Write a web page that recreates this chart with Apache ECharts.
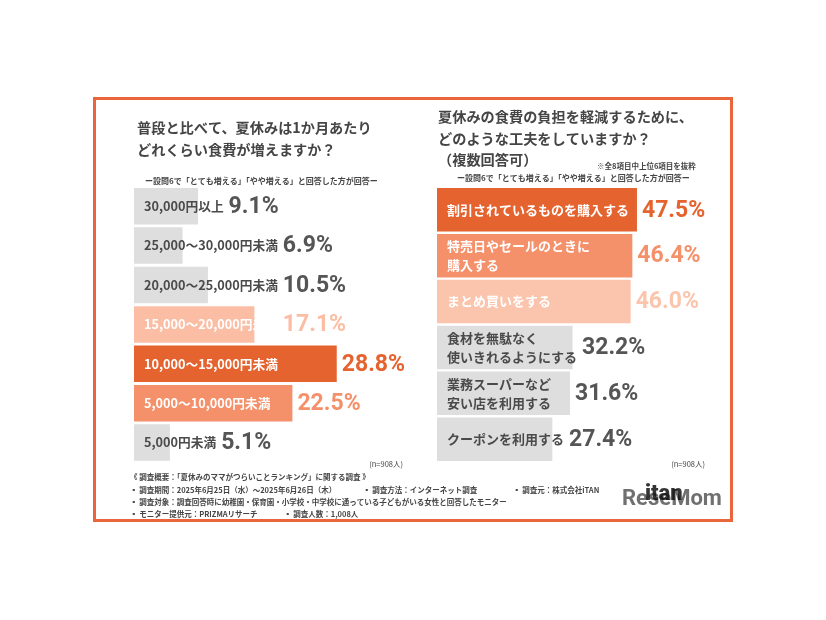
<!DOCTYPE html>
<html><head><meta charset="utf-8">
<script src="https://cdn.jsdelivr.net/npm/echarts@6/dist/echarts.min.js"></script>
<style>html,body{margin:0;padding:0;background:#fff}#c{width:826px;height:620px}</style>
</head><body><div id="c"></div>
<script>
// ---- data ----
const leftCategories = ['30,000円以上','25,000～30,000円未満','20,000～25,000円未満','15,000～20,000円未満','10,000～15,000円未満','5,000～10,000円未満','5,000円未満'];
const leftValues = [9.1, 6.9, 10.5, 17.1, 28.8, 22.5, 5.1];
const leftColors = ['#dedede','#dedede','#dedede','#fbbea5','#e4632f','#f4916b','#dedede'];
const leftLabelColors = ['#4a4a4a','#4a4a4a','#4a4a4a','#ffffff','#ffffff','#ffffff','#4a4a4a'];
const leftValueColors = ['#555555','#555555','#555555','#fbbea5','#e4632f','#f4916b','#555555'];

const rightCategories = ['割引されているものを購入する','特売日やセールのときに\n購入する','まとめ買いをする','食材を無駄なく\n使いきれるようにする','業務スーパーなど\n安い店を利用する','クーポンを利用する'];
const rightValues = [47.5, 46.4, 46.0, 32.2, 31.6, 27.4];
const rightColors = ['#e4632f','#f4916b','#fbc4ac','#dedede','#dedede','#dedede'];
const rightLabelColors = ['#ffffff','#ffffff','#ffffff','#4a4a4a','#4a4a4a','#4a4a4a'];
const rightValueColors = ['#e4632f','#f4916b','#fbc4ac','#555555','#555555','#555555'];

const CJK = '"Noto Sans CJK JP", "Noto Sans", sans-serif';
const NUM = 'Roboto, "Liberation Sans", sans-serif';

const ctx = document.createElement('canvas').getContext('2d');
function textW(str, size){
  ctx.font = 'bold ' + size + 'px ' + CJK;
  return Math.max.apply(null, str.split('\n').map(s => ctx.measureText(s).width));
}

function makeSeries(idx, cats, vals, colors, lblColors, valColors, catSize){
  const pad = 10;
  const gap = idx===0 ? '7.4%' : '5.2%';
  return [
    {
      type:'bar', xAxisIndex:idx, yAxisIndex:idx, barCategoryGap: gap, barGap:'-100%',
      data: vals.map((v,i)=>({value:v, itemStyle:{color:colors[i]}, label:{color:lblColors[i]}})),
      label:{show:true, position:'insideLeft', distance:pad, fontFamily:CJK, fontWeight:'bold', fontSize:catSize, lineHeight:19,
        formatter: p => cats[p.dataIndex]},
      silent:true, animation:false
    },
    {
      type:'bar', xAxisIndex:idx, yAxisIndex:idx, barGap:'-100%', barCategoryGap: gap,
      data: vals.map((v,i)=>({value:v, itemStyle:{color:'rgba(0,0,0,0)'}, label:{color:valColors[i]}})),
      label:{show:true, position:'right', distance:5, fontFamily:NUM, fontWeight:'bold', fontSize:23,
        formatter: p => p.value.toFixed(1) + '%'},
      labelLayout: function(params){
        const r = params.rect;
        const barEnd = r.x + r.width;
        const txtEnd = r.x + pad + textW(cats[params.dataIndex], catSize);
        return {x: Math.max(barEnd, txtEnd) + 5, y: r.y + r.height/2 + 1, align:'left', verticalAlign:'middle'};
      },
      silent:true, animation:false
    }
  ];
}

function T(x,y,text,size,opts){
  return {type:'text', x:x, y:y, style:Object.assign({text:text, fontFamily:CJK, fontWeight:'bold', fontSize:size, fill:'#454545', textVerticalAlign:'middle'}, opts||{})};
}

const chart = echarts.init(document.getElementById('c'), null, {renderer:'canvas'});
chart.setOption({
  backgroundColor:'#ffffff',
  animation:false,
  grid:[
    {left:134, top:186.5, width:281.6, height:275.8},
    {left:437, top:186.8, width:252.6, height:275.4}
  ],
  xAxis:[
    {gridIndex:0, type:'value', min:0, max:40, show:false},
    {gridIndex:1, type:'value', min:0, max:60, show:false}
  ],
  yAxis:[
    {gridIndex:0, type:'category', data:leftCategories, inverse:true, show:false},
    {gridIndex:1, type:'category', data:rightCategories, inverse:true, show:false}
  ],
  series: [].concat(
    makeSeries(0, leftCategories, leftValues, leftColors, leftLabelColors, leftValueColors, 12.7),
    makeSeries(1, rightCategories, rightValues, rightColors, rightLabelColors, rightValueColors, 13)
  ),
  graphic:[
    {type:'rect', shape:{x:94.5, y:98.5, width:637, height:422}, style:{fill:'none', stroke:'#e8663a', lineWidth:3}, z:100},
    T(137,128,'普段と比べて、夏休みは1か月あたり',14.2),
    T(137,150,'どれくらい食費が増えますか？',14.2),
    T(145,181,'ー設問6で「とても増える」「やや増える」と回答した方が回答ー',8),
    T(438,117,'夏休みの食費の負担を軽減するために、',14.2),
    T(438,139,'どのような工夫をしていますか？',14.2),
    T(438,160,'（複数回答可）',14.2),
    T(597,166,'※全8項目中上位6項目を抜粋',7.5),
    T(457,178,'ー設問6で「とても増える」「やや増える」と回答した方が回答ー',8),
    T(403,464,'(n=908人)',7.5,{fontWeight:'normal', textAlign:'right'}),
    T(705,464,'(n=908人)',7.5,{fontWeight:'normal', textAlign:'right'}),
    T(130,477,'《 調査概要：「夏休みのママがつらいことランキング」に関する調査 》',7.5),
    T(130,490,'▪ 調査期間：2025年6月25日（水）～2025年6月26日（木）',7.5),
    T(363,490,'▪ 調査方法：インターネット調査',7.5),
    T(513,490,'▪ 調査元：株式会社iTAN',7.5),
    T(130,502,'▪ 調査対象：調査回答時に幼稚園・保育園・小学校・中学校に通っている子どもがいる女性と回答したモニター',7.5),
    T(130,514,'▪ モニター提供元：PRIZMAリサーチ',7.5),
    T(284,514,'▪ 調査人数：1,008人',7.5),
    {type:'text', x:622, y:499, style:{text:'ReseMom', fontFamily:NUM, fontWeight:'bold', fontSize:22, fill:'#707070', textVerticalAlign:'middle'}},
    {type:'text', x:645, y:494, style:{text:'itan', fontFamily:NUM, fontWeight:900, fontSize:22, fill:'#111111', textVerticalAlign:'middle', opacity:0.85}}
  ]
});
</script>
</body></html>
